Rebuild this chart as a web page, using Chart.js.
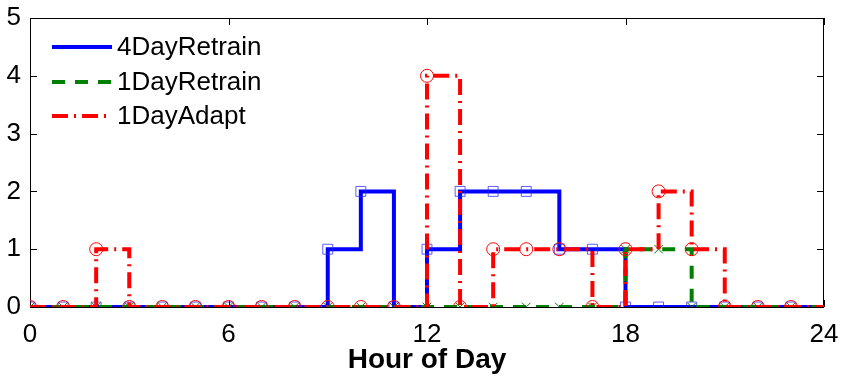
<!DOCTYPE html>
<html>
<head>
<meta charset="utf-8">
<script src="https://cdn.jsdelivr.net/npm/chart.js@4"></script>
<style>
  html, body { margin: 0; padding: 0; background: #fff; }
  canvas { display: block; }
</style>
</head>
<body>
<canvas id="stairs" width="842" height="377"></canvas>
<script>
// hour of day and the counts for each method
var hours = [0,1,2,3,4,5,6,7,8,9,10,11,12,13,14,15,16,17,18,19,20,21,22,23]
var retrain4 = [0,0,0,0,0,0,0,0,0,1,2,0,1,2,2,2,1,1,0,0,0,0,0,0]
var retrain1 = [0,0,0,0,0,0,0,0,0,0,0,0,0,0,0,0,0,0,1,1,0,0,0,0]
var adapt1 = [0,0,1,0,0,0,0,0,0,0,0,0,4,0,1,1,1,0,1,2,1,0,0,0]
var xTicks = [0,6,12,18,24]
var yTicks = [0,1,2,3,4,5]
var seriesNames = ['4DayRetrain', '1DayRetrain', '1DayAdapt']

var tickFont = '26px "Liberation Sans", Arial, sans-serif'

// stairs run on to the end of the day, last value held
function stairPoints(vals) {
    var pts = hours.map(function (h, i) { return {x: h, y: vals[i]} })
    pts.push({x: 24, y: vals[vals.length - 1]})
    return pts
}
function markerSizes(r) {
    var s = hours.map(function () { return r })
    s.push(0)
    return s
}

// box around the axes and inward ticks like matlab
var boxPlugin = {
    id: 'box',
    beforeDatasetsDraw: function (chart) {
        var ctx = chart.ctx, a = chart.chartArea
        var xs = chart.scales.x, ys = chart.scales.y
        ctx.save()
        ctx.strokeStyle = '#000'
        ctx.lineWidth = 1
        ctx.strokeRect(a.left + 0.5, a.top + 0.5, a.right - a.left - 1, a.bottom - a.top)
        ctx.beginPath()
        xTicks.forEach(function (t) {
            var px = Math.round(xs.getPixelForValue(t)) + 0.5
            ctx.moveTo(px, a.bottom); ctx.lineTo(px, a.bottom - 7)
            ctx.moveTo(px, a.top); ctx.lineTo(px, a.top + 7)
        })
        yTicks.forEach(function (t) {
            var py = Math.round(ys.getPixelForValue(t)) + 0.5
            ctx.moveTo(a.left, py); ctx.lineTo(a.left + 7, py)
            ctx.moveTo(a.right, py); ctx.lineTo(a.right - 7, py)
        })
        ctx.stroke()
        ctx.restore()
    },
    afterDraw: function (chart) {
        // legend in the upper left corner
        var ctx = chart.ctx
        var rows = [47, 82, 116]
        ctx.save()
        chart.data.datasets.forEach(function (ds, i) {
            ctx.beginPath()
            ctx.strokeStyle = ds.borderColor
            ctx.lineWidth = ds.borderWidth
            ctx.setLineDash(ds.borderDash || [])
            ctx.moveTo(52, rows[i]); ctx.lineTo(112, rows[i])
            ctx.stroke()
            ctx.setLineDash([])
            ctx.fillStyle = '#000'
            ctx.font = tickFont
            ctx.textBaseline = 'middle'
            ctx.textAlign = 'left'
            ctx.fillText(ds.label, 117, rows[i] + 1)
        })
        ctx.restore()
    }
}

var data = {
    datasets: [{
        label: seriesNames[0],
        data: stairPoints(retrain4),
        borderColor: '#0000ff',
        borderWidth: 4,
        stepped: true,
        pointStyle: 'rect',
        pointRadius: markerSizes(7),
        pointBorderColor: 'rgba(40,40,255,0.75)',
        pointBorderWidth: 1,
        pointBackgroundColor: 'rgba(0,0,0,0)',
        order: 3
    }, {
        label: seriesNames[1],
        data: stairPoints(retrain1),
        borderColor: '#008000',
        borderWidth: 4,
        borderDash: [13, 10],
        stepped: true,
        pointStyle: 'crossRot',
        pointRadius: markerSizes(6),
        pointBorderColor: '#008000',
        pointBorderWidth: 1,
        order: 2
    }, {
        label: seriesNames[2],
        data: stairPoints(adapt1),
        borderColor: '#ff0000',
        borderWidth: 4,
        borderDash: [16, 6, 2, 6],
        stepped: true,
        pointStyle: 'circle',
        pointRadius: markerSizes(6.5),
        pointBorderColor: '#ff0000',
        pointBorderWidth: 1,
        pointBackgroundColor: 'rgba(0,0,0,0)',
        order: 1
    }]
}

var config = {
    type: 'line',
    data: data,
    options: {
        responsive: false,
        animation: false,
        layout: {padding: {top: 18, right: 18, left: 0, bottom: 0}},
        plugins: {legend: {display: false}, tooltip: {enabled: false}},
        elements: {line: {borderJoinStyle: 'miter', borderCapStyle: 'butt'}},
        scales: {
            x: {
                type: 'linear',
                min: 0, max: 24,
                afterBuildTicks: function (s) { s.ticks = xTicks.map(function (v) { return {value: v} }) },
                afterFit: function (s) { s.height = 70; s.paddingLeft = 0; s.paddingRight = 0 },
                grid: {display: false, drawTicks: false},
                border: {display: false},
                ticks: {color: '#000', font: {family: '"Liberation Sans", Arial, sans-serif', size: 26}, padding: 12, maxRotation: 0},
                title: {display: true, text: 'Hour of Day', color: '#000', font: {family: '"Liberation Sans", Arial, sans-serif', size: 28, weight: 'bold'}, padding: {top: 0, bottom: 0}}
            },
            y: {
                min: 0, max: 5,
                afterBuildTicks: function (s) { s.ticks = yTicks.map(function (v) { return {value: v} }) },
                afterFit: function (s) { s.width = 30; s.paddingTop = 0; s.paddingBottom = 0 },
                grid: {display: false, drawTicks: false},
                border: {display: false},
                ticks: {color: '#000', font: {family: '"Liberation Sans", Arial, sans-serif', size: 26}, padding: 9}
            }
        }
    },
    plugins: [boxPlugin]
}

var myChart = new Chart(document.getElementById('stairs'), config)
</script>
</body>
</html>
